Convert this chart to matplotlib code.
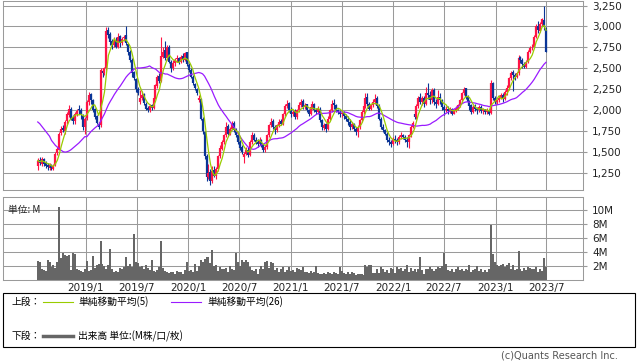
import numpy as np
import pandas as pd
import matplotlib
matplotlib.use("Agg")
import matplotlib.pyplot as plt
from matplotlib.lines import Line2D
from matplotlib.patches import Rectangle

# weekly OHLC (yen), first week 2018-07-13
start = "2018-07-13"
open_ = [
    1330, 1410, 1360, 1420, 1370, 1350, 1310, 1350, 1300, 1350,
    1490, 1530, 1730, 1790, 1750, 1870, 1940, 2020, 1910, 1870,
    1950, 2010, 2000, 1930, 1800, 1910, 2100, 2190, 2120, 2010,
    1930, 1840, 1820, 2470, 2440, 2500, 2960, 2910, 2830, 2780,
    2840, 2760, 2890, 2800, 2860, 2900, 2790, 2700, 2600, 2460,
    2370, 2250, 2100, 2150, 2190, 2080, 2030, 2000, 2060, 2030,
    2150, 2290, 2410, 2350, 2640, 2720, 2620, 2760, 2580, 2500,
    2560, 2610, 2620, 2580, 2650, 2600, 2690, 2540, 2480, 2400,
    2310, 2250, 2120, 2140, 1900, 1740, 1450, 1200, 1260, 1150,
    1290, 1210, 1300, 1450, 1540, 1620, 1700, 1810, 1720, 1780,
    1850, 1760, 1700, 1620, 1560, 1440, 1480, 1530, 1460, 1620,
    1710, 1650, 1620, 1600, 1640, 1590, 1520, 1560, 1700, 1820,
    1870, 1800, 1760, 1820, 1870, 1840, 1950, 2050, 2090, 2000,
    1950, 1990, 1920, 2000, 2060, 2110, 2040, 2070, 2000, 1960,
    2040, 2080, 2000, 1980, 2020, 1880, 1790, 1830, 1780, 1900,
    2000, 2090, 2060, 2000, 1980, 1950, 1970, 1930, 1900, 1860,
    1800, 1830, 1780, 1740, 1800, 1880, 1980, 2050, 2160, 2080,
    2020, 2060, 2100, 2150, 2050, 1900, 1800, 1760, 1720, 1650,
    1620, 1600, 1660, 1640, 1620, 1680, 1700, 1680, 1650, 1620,
    1700, 1800, 1960, 1920, 2050, 2160, 2100, 2150, 2080, 2210,
    2180, 2120, 2240, 2100, 2080, 2160, 2120, 2040, 2000, 2020,
    1990, 2010, 1960, 1990, 2020, 2060, 2120, 2200, 2260, 2160,
    2100, 2060, 1980, 2040, 2020, 2000, 2040, 1990, 2010, 1980,
    2000, 1970, 2320, 2150, 2100, 2120, 2150, 2180, 2140, 2220,
    2260, 2380, 2460, 2420, 2400, 2440, 2630, 2600, 2550, 2520,
    2580, 2700, 2750, 2760, 2880, 3010, 2950, 3030, 3080, 2960,
]
high = [
    1430, 1440, 1440, 1430, 1390, 1370, 1370, 1360, 1360, 1500,
    1560, 1740, 1810, 1820, 1880, 1980, 2060, 2040, 1940, 1980,
    2010, 2060, 2030, 1950, 1920, 2120, 2220, 2200, 2130, 2030,
    1940, 1860, 2510, 2500, 2520, 2990, 2990, 2930, 2850, 2870,
    2870, 2920, 2900, 2880, 2900, 3000, 2800, 2720, 2620, 2470,
    2390, 2280, 2240, 2230, 2200, 2100, 2050, 2080, 2080, 2170,
    2310, 2420, 2440, 2880, 2760, 2830, 2780, 2780, 2600, 2600,
    2620, 2660, 2640, 2660, 2680, 2700, 2700, 2560, 2500, 2420,
    2330, 2260, 2180, 2150, 1920, 1750, 1480, 1360, 1300, 1330,
    1330, 1320, 1470, 1580, 1640, 1720, 1860, 1830, 1800, 1870,
    1870, 1790, 1720, 1640, 1580, 1500, 1560, 1560, 1640, 1740,
    1730, 1680, 1660, 1680, 1660, 1600, 1580, 1720, 1840, 1910,
    1900, 1820, 1840, 1890, 1900, 1970, 2070, 2120, 2100, 2040,
    2000, 2010, 2020, 2100, 2140, 2130, 2090, 2080, 2020, 2060,
    2110, 2090, 2030, 2050, 2040, 1900, 1850, 1850, 1930, 2020,
    2120, 2140, 2080, 2020, 2000, 2000, 1990, 1960, 1930, 1890,
    1860, 1850, 1800, 1820, 1900, 2000, 2080, 2200, 2200, 2100,
    2080, 2130, 2190, 2170, 2070, 1920, 1830, 1780, 1740, 1680,
    1650, 1680, 1700, 1670, 1700, 1740, 1720, 1700, 1680, 1720,
    1820, 1870, 1980, 2070, 2170, 2200, 2170, 2170, 2280, 2320,
    2230, 2260, 2260, 2140, 2240, 2200, 2140, 2060, 2050, 2050,
    2040, 2030, 2010, 2050, 2080, 2140, 2220, 2280, 2270, 2180,
    2120, 2080, 2060, 2070, 2040, 2060, 2060, 2030, 2020, 2030,
    2010, 2360, 2340, 2170, 2140, 2180, 2200, 2200, 2240, 2300,
    2400, 2470, 2480, 2440, 2460, 2660, 2650, 2620, 2580, 2600,
    2720, 2770, 2790, 2900, 3030, 3060, 3050, 3100, 3240, 2990,
]
low = [
    1290, 1350, 1340, 1330, 1310, 1290, 1290, 1290, 1290, 1340,
    1460, 1520, 1700, 1740, 1720, 1840, 1920, 1880, 1830, 1840,
    1930, 1960, 1900, 1760, 1720, 1880, 2060, 2080, 1980, 1900,
    1830, 1780, 1800, 2400, 2420, 2480, 2860, 2780, 2730, 2760,
    2740, 2740, 2760, 2780, 2830, 2780, 2660, 2580, 2400, 2360,
    2220, 2180, 2080, 2120, 2060, 2000, 1980, 1980, 2000, 2010,
    2130, 2260, 2320, 2340, 2620, 2600, 2600, 2560, 2460, 2480,
    2530, 2580, 2550, 2560, 2580, 2590, 2530, 2460, 2380, 2300,
    2240, 2180, 2100, 1880, 1720, 1420, 1160, 1180, 1110, 1130,
    1200, 1180, 1280, 1430, 1520, 1600, 1680, 1700, 1700, 1760,
    1740, 1680, 1600, 1530, 1480, 1370, 1460, 1440, 1450, 1600,
    1630, 1600, 1560, 1580, 1560, 1500, 1500, 1540, 1680, 1800,
    1780, 1720, 1740, 1800, 1820, 1820, 1930, 2030, 1980, 1920,
    1930, 1900, 1900, 1980, 2040, 2020, 2020, 1980, 1930, 1940,
    2020, 1980, 1960, 1960, 1860, 1770, 1760, 1740, 1760, 1880,
    1980, 2020, 1980, 1960, 1920, 1920, 1900, 1870, 1820, 1760,
    1780, 1750, 1700, 1680, 1780, 1860, 1960, 2030, 2050, 2000,
    2000, 2040, 2080, 2030, 1880, 1780, 1740, 1700, 1620, 1580,
    1560, 1590, 1610, 1590, 1600, 1660, 1660, 1620, 1560, 1550,
    1680, 1790, 1900, 1900, 2030, 2080, 2060, 2040, 2060, 2140,
    2080, 2090, 2060, 2030, 2060, 2080, 2000, 1940, 1980, 1960,
    1970, 1940, 1950, 1980, 2000, 2040, 2100, 2180, 2140, 2060,
    2000, 1950, 1970, 1990, 1960, 1980, 1970, 1960, 1960, 1950,
    1940, 1950, 2120, 2080, 2080, 2100, 2130, 2100, 2120, 2180,
    2240, 2360, 2230, 2360, 2380, 2420, 2560, 2500, 2500, 2500,
    2560, 2680, 2720, 2740, 2860, 2920, 2930, 3000, 2960, 2690,
]
close = [
    1400, 1370, 1420, 1360, 1340, 1320, 1350, 1310, 1340, 1480,
    1540, 1720, 1780, 1760, 1860, 1950, 2020, 1900, 1870, 1960,
    1990, 2000, 1940, 1800, 1900, 2100, 2180, 2120, 2000, 1920,
    1850, 1800, 2480, 2450, 2500, 2950, 2900, 2820, 2780, 2830,
    2760, 2880, 2800, 2850, 2880, 2800, 2700, 2600, 2450, 2380,
    2250, 2200, 2150, 2180, 2090, 2020, 2000, 2050, 2030, 2150,
    2300, 2400, 2350, 2650, 2700, 2620, 2750, 2580, 2500, 2560,
    2600, 2620, 2580, 2640, 2600, 2680, 2550, 2480, 2400, 2320,
    2260, 2200, 2150, 1900, 1750, 1450, 1200, 1250, 1150, 1280,
    1220, 1300, 1450, 1550, 1620, 1700, 1800, 1720, 1780, 1840,
    1760, 1700, 1620, 1550, 1500, 1480, 1520, 1460, 1620, 1700,
    1650, 1620, 1600, 1640, 1580, 1520, 1560, 1700, 1820, 1860,
    1800, 1760, 1820, 1860, 1840, 1950, 2050, 2080, 2000, 1950,
    1980, 1920, 2000, 2060, 2100, 2040, 2060, 2000, 1960, 2040,
    2080, 2000, 1980, 2020, 1880, 1800, 1820, 1780, 1900, 2000,
    2080, 2060, 2000, 1980, 1950, 1970, 1930, 1900, 1860, 1800,
    1830, 1780, 1740, 1800, 1880, 1980, 2050, 2150, 2080, 2020,
    2060, 2100, 2140, 2050, 1900, 1800, 1760, 1720, 1650, 1620,
    1600, 1660, 1640, 1620, 1680, 1700, 1680, 1650, 1620, 1700,
    1800, 1850, 1920, 2050, 2150, 2100, 2150, 2080, 2200, 2180,
    2120, 2240, 2100, 2080, 2160, 2120, 2040, 2000, 2020, 1990,
    2010, 1960, 1990, 2020, 2060, 2120, 2200, 2250, 2160, 2100,
    2050, 1980, 2040, 2020, 2000, 2040, 1990, 2010, 1980, 2000,
    1960, 2330, 2150, 2100, 2120, 2150, 2180, 2140, 2220, 2260,
    2380, 2450, 2420, 2400, 2440, 2620, 2600, 2550, 2520, 2580,
    2700, 2740, 2760, 2880, 3000, 2960, 3030, 3090, 2990, 2700,
]
# 26-week average for the first 25 weeks (history before the window)
ma26_head = [
    1860, 1840, 1810, 1780, 1750, 1720, 1690, 1640, 1610, 1580,
    1560, 1540, 1520, 1505, 1500, 1505, 1515, 1530, 1550, 1570,
    1590, 1610, 1635, 1660, 1685,
]
# weekly volume, millions
volume = [
    2.7, 2.6, 1.6, 1.4, 1.3, 2.9, 2.6, 1.9, 2.2, 1.7,
    2.6, 10.4, 3.1, 3.8, 3.6, 3.4, 3.6, 1.4, 3.9, 3.7,
    1.6, 1.4, 1.3, 1.2, 1.6, 2.7, 1.3, 1.4, 3.4, 1.7,
    2.1, 2.3, 5.5, 2.3, 2.0, 1.6, 2.1, 4.4, 1.5, 1.1,
    1.3, 1.1, 1.7, 1.6, 1.8, 3.2, 2.0, 2.3, 1.8, 6.5,
    2.5, 2.4, 1.8, 2.0, 1.6, 2.1, 1.7, 1.4, 2.8, 1.3,
    1.2, 1.4, 1.8, 5.5, 1.7, 1.3, 1.2, 1.0, 1.2, 1.1,
    0.9, 1.3, 1.1, 1.2, 0.9, 1.4, 2.5, 1.3, 1.4, 1.2,
    2.3, 1.3, 2.0, 2.8, 2.5, 3.0, 3.2, 3.3, 2.4, 4.3,
    2.0, 2.2, 1.3, 1.8, 1.6, 1.5, 1.7, 1.2, 2.0, 1.6,
    1.4, 3.9, 2.6, 2.0, 2.8, 2.5, 2.8, 2.6, 1.8, 1.4,
    1.3, 1.6, 0.9, 1.5, 2.0, 1.5, 2.5, 2.7, 1.7, 2.6,
    2.4, 1.4, 1.7, 1.2, 1.5, 1.8, 1.2, 1.4, 1.8, 1.3,
    1.4, 1.2, 1.7, 1.6, 1.4, 1.9, 1.2, 1.1, 1.0, 1.3,
    1.0, 1.2, 2.0, 1.0, 0.8, 0.9, 1.0, 0.8, 1.1, 1.0,
    0.9, 1.1, 1.0, 0.9, 1.9, 1.3, 1.0, 0.8, 1.1, 0.9,
    1.2, 1.0, 0.7, 0.8, 0.9, 0.8, 0.7, 2.2, 1.8, 2.1,
    2.2, 1.0, 1.0, 1.5, 1.0, 1.8, 1.6, 1.2, 1.4, 1.0,
    1.7, 1.5, 1.0, 1.9, 1.6, 1.7, 1.3, 1.5, 2.1, 1.1,
    1.7, 1.3, 1.6, 1.2, 1.5, 3.3, 1.4, 0.8, 1.6, 1.5,
    1.8, 1.6, 1.3, 1.5, 1.8, 1.7, 2.0, 3.9, 2.3, 1.4,
    1.3, 1.6, 1.2, 1.5, 1.9, 1.4, 1.6, 1.3, 1.5, 1.4,
    2.1, 1.2, 1.4, 1.5, 2.0, 1.3, 1.6, 1.2, 1.4, 1.1,
    1.5, 7.8, 3.7, 2.6, 2.2, 2.0, 2.1, 2.3, 1.8, 2.1,
    2.4, 1.6, 2.2, 1.4, 1.6, 4.1, 1.6, 1.3, 1.7, 1.4,
    1.9, 1.7, 1.5, 1.6, 1.8, 1.2, 1.5, 1.3, 3.1, 1.8,
]
price_ticks = [1250, 1500, 1750, 2000, 2250, 2500, 2750, 3000, 3250]
vol_ticks = [2, 4, 6, 8, 10]
date_ticks = ["2019-01-01", "2019-07-01", "2020-01-01", "2020-07-01", "2021-01-01",
              "2021-07-01", "2022-01-01", "2022-07-01", "2023-01-01", "2023-07-01"]

UP, DOWN = "#ff1446", "#0a3596"
MA5_C, MA26_C = "#99cc00", "#9a1bff"
GRID = "#9a9a9a"
JP = ["Noto Sans CJK JP", "DejaVu Sans"]

df = pd.DataFrame({"o": open_, "h": high, "l": low, "c": close, "v": volume},
                  index=pd.date_range(start, periods=len(close), freq="7D"))
df["ma5"] = df["c"].rolling(5, min_periods=1).mean()
ma26 = df["c"].rolling(26).mean()
ma26.iloc[:len(ma26_head)] = ma26_head
df["ma26"] = ma26

W, H = 638, 362
fig = plt.figure(figsize=(W / 100, H / 100), dpi=100)


def px_axes(x0, y0, x1, y1):
    return fig.add_axes([x0 / W, 1 - y1 / H, (x1 - x0) / W, (y1 - y0) / H])


ax = px_axes(3, 0.5, 583, 190)
axv = px_axes(3, 197, 583, 280)
xlim = (pd.Timestamp("2018-03-11"), pd.Timestamp("2023-11-09"))
tick_dates = pd.to_datetime(date_ticks)

for a in (ax, axv):
    a.set_xlim(*xlim)
    a.set_xticks(tick_dates)
    a.grid(True, color=GRID, lw=0.75)
    a.set_axisbelow(True)
    for s in a.spines.values():
        s.set_color(GRID)
        s.set_linewidth(0.75)
    a.yaxis.tick_right()
    a.tick_params(axis="y", length=3, color=GRID, labelsize=7.5, pad=3.5, labelcolor="#222222")
    a.tick_params(axis="x", length=0)

# candles
up = df["c"] >= df["o"]
colors = np.where(up, UP, DOWN)
ax.vlines(df.index, df["l"], df["h"], colors=colors, lw=0.8, zorder=2)
ax.vlines(df.index, np.minimum(df["o"], df["c"]), np.maximum(df["o"], df["c"]),
          colors=colors, lw=1.6, zorder=2)
ax.plot(df.index, df["ma26"], color=MA26_C, lw=0.9, zorder=3)
ax.plot(df.index, df["ma5"], color=MA5_C, lw=0.9, zorder=4)
ax.set_ylim(1048, 3310)
ax.set_yticks(price_ticks)
ax.set_yticklabels([f"{t:,}" for t in price_ticks])
ax.set_xticklabels([])

# volume
axv.bar(df.index, df["v"], width=7, color="#666666", lw=0, zorder=2)
axv.set_ylim(0, 11.8)
axv.set_yticks(vol_ticks)
axv.set_yticklabels([f"{t}M" for t in vol_ticks])
axv.set_xticklabels([f"{d.year}/{d.month}" for d in tick_dates], fontsize=7.5, color="#222222")
axv.tick_params(axis="x", pad=2)
fig.text(8 / W, 1 - 210 / H, "単位: M", family=JP, fontsize=7, va="center", color="#222222")

# legend box
fig.add_artist(Rectangle((3 / W, 1 - 347 / H), 632 / W, 54 / H, transform=fig.transFigure,
                         fill=False, edgecolor="#000000", lw=0.8))


def fy(y):
    return 1 - y / H


fig.text(11 / W, fy(302), "上段：", family=JP, fontsize=7, va="center")
fig.add_artist(Line2D([43 / W, 73 / W], [fy(302)] * 2, color=MA5_C, lw=0.8))
fig.text(78 / W, fy(302), "単純移動平均(5)", family=JP, fontsize=7, va="center")
fig.add_artist(Line2D([171 / W, 201 / W], [fy(302)] * 2, color=MA26_C, lw=0.8))
fig.text(207 / W, fy(302), "単純移動平均(26)", family=JP, fontsize=7, va="center")
fig.text(11 / W, fy(336), "下段：", family=JP, fontsize=7, va="center")
fig.add_artist(Line2D([43 / W, 73 / W], [fy(336)] * 2, color="#666666", lw=2.5))
fig.text(78 / W, fy(336), "出来高 単位:(M株/口/枚)", family=JP, fontsize=7, va="center")
fig.text(618 / W, fy(356), "(c)Quants Research Inc.", fontsize=7, va="center", ha="right",
         color="#555555")

fig.savefig("out.png", dpi=100)
